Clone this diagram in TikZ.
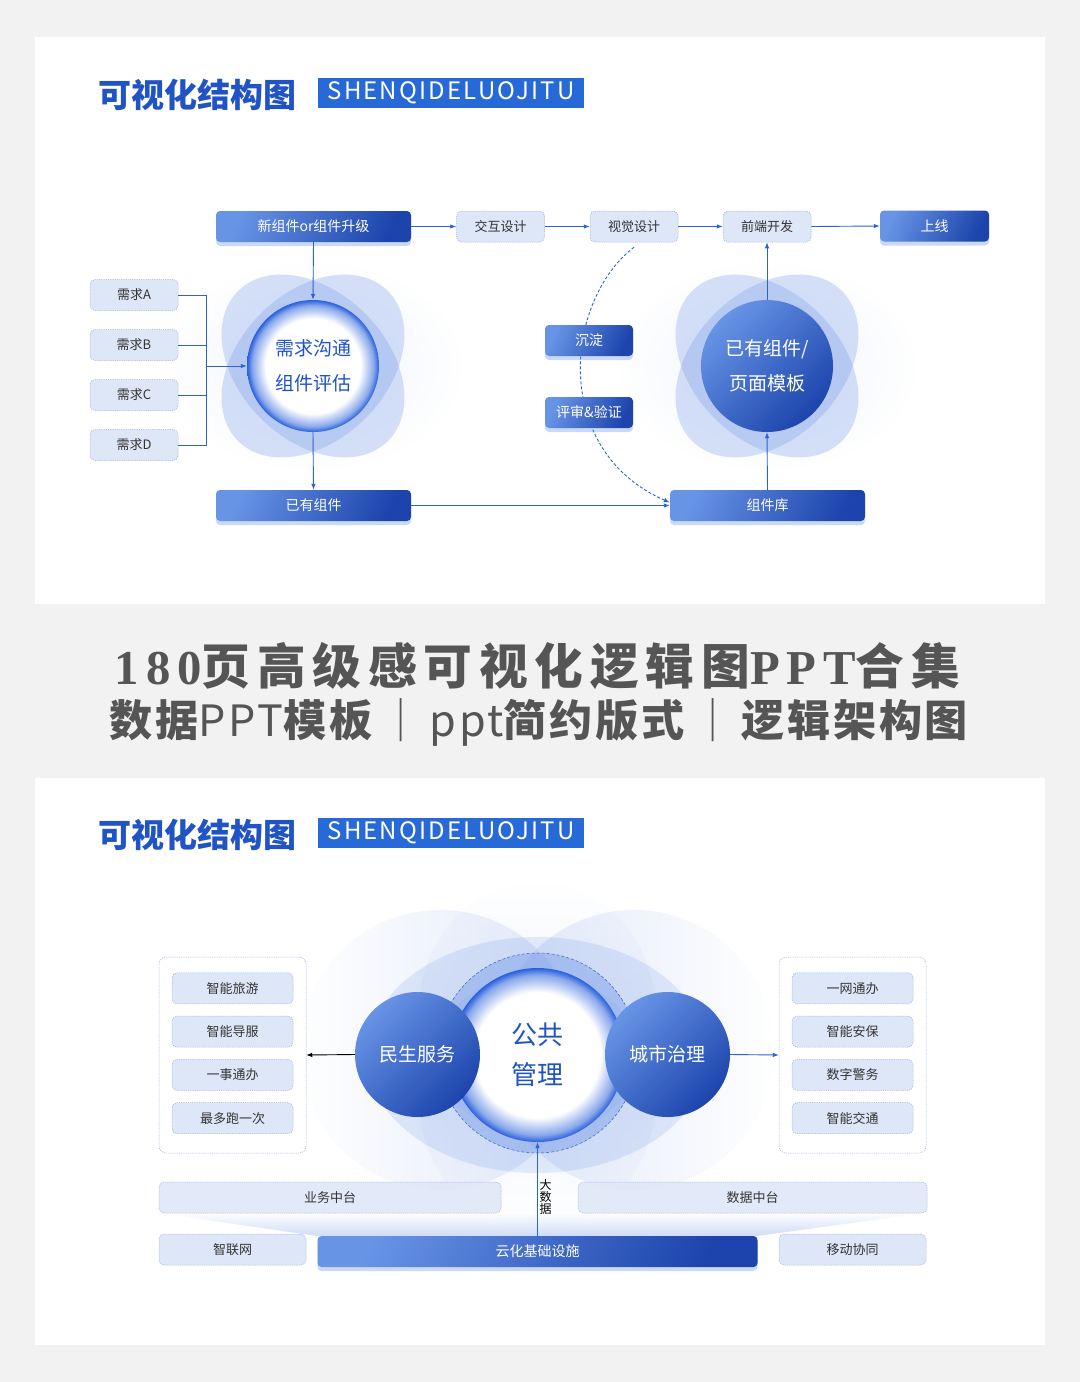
\documentclass[tikz,border=0pt]{standalone}
\usepackage{fontspec}
\setmainfont{Noto Sans CJK SC}
\newfontfamily\headserif{Liberation Serif}
\usetikzlibrary{arrows.meta,positioning,shadows,fadings,calc}
\definecolor{pagegray}{RGB}{242,242,242}
\definecolor{titleblue}{RGB}{32,84,196}
\definecolor{tagblue}{RGB}{40,105,216}
\definecolor{linkblue}{RGB}{42,99,212}
\definecolor{boxlight}{RGB}{104,148,230}
\definecolor{boxdark}{RGB}{28,68,172}
\definecolor{paleblue}{RGB}{222,231,248}
\definecolor{paleline}{RGB}{160,178,214}
\definecolor{petalblue}{RGB}{120,156,232}
\definecolor{ringblue}{RGB}{40,96,220}
\definecolor{textgray}{RGB}{51,51,51}
\definecolor{headgray}{RGB}{85,85,85}
\pgfdeclareradialshading{ringglow}{\pgfpoint{0bp}{0bp}}{color(0bp)=(white); color(18bp)=(white); color(23bp)=(ringblue!55); color(25bp)=(ringblue); color(50bp)=(ringblue)}
\tikzfading[name=softglow, inner color=transparent!20, outer color=transparent!100]
\tikzset{
    % gradient boxes
    darkbox/.style={
        rounded corners=4pt, left color=boxlight, right color=boxdark, shading angle=65,
        text=white, font=\fontsize{14}{16}\selectfont,
        minimum height=31pt, inner sep=0pt,
        drop shadow={shadow xshift=0pt, shadow yshift=-4pt, fill=boxlight, opacity=.35}
    },
    % pale dashed boxes
    palebox/.style={
        rounded corners=5pt, fill=paleblue, draw=paleline, dash pattern=on 1.2pt off 1pt,
        line width=.5pt, text=textgray, font=\fontsize{13}{15}\selectfont,
        minimum height=31pt, inner sep=0pt
    },
    groupbox/.style={rounded corners=7pt, fill=white, draw=paleline,
        dash pattern=on 1.2pt off 1pt, line width=.5pt, inner sep=0pt},
    % circles
    solidball/.style={circle, inner sep=0pt, top color=boxlight, bottom color=boxdark,
        shading angle=45, text=white, align=center},
    glowring/.style={circle, inner sep=0pt, shade, shading=ringglow, text=titleblue, align=center},
    % titles
    titletext/.style={font=\fontsize{33}{36}\selectfont\bfseries, text=titleblue, inner sep=0pt},
    tagbox/.style={fill=tagblue, text=white, minimum width=266pt, minimum height=30pt,
        inner sep=0pt, font=\fontsize{24}{26}\selectfont\addfontfeature{LetterSpace=9}},
    % connectors
    link/.style={draw=linkblue, line width=.9pt},
    flow/.style={link, -{Latex[length=6pt,width=4.5pt]}},
    dashflow/.style={flow, densely dashed},
    blackflow/.style={flow, draw=black},
}
\newcommand{\flowerglow}[2]{%
  \fill[petalblue, opacity=.14, path fading=softglow] (#1,#2) ellipse [x radius=150, y radius=105];
  \fill[petalblue, opacity=.3, rotate around={45:(#1,#2)}] (#1,#2) ellipse [x radius=106, y radius=74];
  \fill[petalblue, opacity=.3, rotate around={-45:(#1,#2)}] (#1,#2) ellipse [x radius=106, y radius=74];
}
\newcommand{\headspace}{\addfontfeature{LetterSpace=14}}
\begin{document}
\begin{tikzpicture}[x=1pt,y=-1pt]
\fill[pagegray] (0,0) rectangle (1080,1382);
\useasboundingbox (0,0) rectangle (1080,1382);
\fill[white] (35,37) rectangle (1045,604);
\fill[white] (35,778) rectangle (1045,1345);

% panel titles
\foreach \ty [count=\k] in {95,835} {
  \node[titletext, anchor=west] (title\k) at (98,\ty) {可视化结构图};
  \node[tagbox] (tag\k) at (451,\ty-2) {SHENQIDELUOJITU};
}

% ---- top diagram ----
\flowerglow{313}{366}
\flowerglow{767}{366}
\node[darkbox, minimum width=195pt] (newcomp) at (313.5,226.5) {新组件or组件升级};
\node[palebox, minimum width=88pt] (inter) at (500.5,226.5) {交互设计};
\node[palebox, minimum width=88pt] (visual) at (634,226.5) {视觉设计};
\node[palebox, minimum width=88pt] (front) at (767,226.5) {前端开发};
\node[darkbox, minimum width=109pt] (online) at (934.5,226) {上线};
\foreach \lab [count=\i] in {A,B,C,D}
  \node[palebox, minimum width=88pt] (req\lab) at (134,245+50*\i) {需求\lab};
\node[glowring, minimum size=132pt, font=\fontsize{19}{35}\selectfont] (demand) at (313,366) {需求沟通\\组件评估};
\node[solidball, minimum size=132pt, font=\fontsize{19}{35}\selectfont] (stock) at (767,366) {已有组件/\\页面模板};
\node[darkbox, minimum width=195pt] (owned) at (313.5,505.5) {已有组件};
\node[darkbox, minimum width=195pt] (library) at (767.5,505.5) {组件库};
% feedback loop behind the two small boxes
\draw[dashflow] ([yshift=-5pt]visual.south) .. controls (565,300) and (550,450) .. ([yshift=3pt]library.west);
\node[darkbox, minimum width=88pt] (settle) at (589,340.5) {沉淀};
\node[darkbox, minimum width=88pt] (review) at (589,412.5) {评审\&验证};

\draw[flow] (newcomp.east) -- (inter.west);
\draw[flow] (inter.east) -- (visual.west);
\draw[flow] (visual.east) -- (front.west);
\draw[flow] (front.east) -- (online.west);
\draw[flow] (newcomp.south) -- (demand.north);
\draw[flow] (demand.south) -- (owned.north);
\coordinate (bus) at (206,366);
\foreach \lab in {A,B,C,D} \draw[link] (req\lab.east) -| (bus);
\draw[flow] (bus) -- (demand.west);
\draw[flow] (owned.east) -- (library.west);
\draw[flow] (library.north) -- (stock.south);
\draw[flow] (stock.north) -- (front.south);

% ---- middle headline ----
\node[text=headgray, inner sep=0pt] (head1) at (537.5,666)
  {\resizebox{845pt}{!}{\fontsize{42}{44}\selectfont\bfseries\headspace{\headserif\bfseries\headspace 180}页高级感可视化逻辑图{\headserif\bfseries\headspace PPT}合集}};
\node[text=headgray, inner sep=0pt] (head2) at (539,722)
  {\resizebox{858pt}{!}{\fontsize{43}{45}\selectfont\bfseries\addfontfeature{LetterSpace=6}数据{\mdseries PPT}模板\,{\mdseries ｜}\,{\mdseries ppt}简约版式\,{\mdseries ｜}\,逻辑架构图}};

% ---- bottom diagram ----
% soft lobes
\fill[petalblue, opacity=.22, path fading=west] (440,1050) circle (140);
\fill[petalblue, opacity=.22, path fading=east] (634,1050) circle (140);
\fill[petalblue, opacity=.16, path fading=north] (537,1010) ellipse [x radius=118, y radius=128];
\fill[petalblue, opacity=.16, path fading=south] (537,1100) ellipse [x radius=118, y radius=128];
\fill[petalblue, opacity=.2] (537,1055) ellipse [x radius=170, y radius=118];
\fill[petalblue, opacity=.35, path fading=north] (159,1213) -- (927,1213) -- (758,1236) -- (318,1236) -- cycle;

\node[groupbox, minimum width=147pt, minimum height=196pt] (leftgrp) at (232.5,1055) {};
\node[groupbox, minimum width=147pt, minimum height=196pt] (rightgrp) at (852.5,1055) {};
\foreach \lab [count=\i] in {智能旅游,智能导服,一事通办,最多跑一次}
  \node[palebox, minimum width=121pt] (ls\i) at (232.5,945+43.3*\i) {\lab};
\foreach \lab [count=\i] in {一网通办,智能安保,数字警务,智能交通}
  \node[palebox, minimum width=121pt] (rs\i) at (852.5,945+43.3*\i) {\lab};

\node[circle, minimum size=200pt, fill=petalblue, fill opacity=.45, draw=linkblue,
      densely dashed, line width=.5pt] (halo) at (537.5,1053) {};
\node[glowring, minimum size=174pt, font=\fontsize{26}{40}\selectfont] (public) at (537.5,1055) {公共\\管理};
\node[solidball, minimum size=125pt, font=\fontsize{19}{22}\selectfont] (people) at (417.5,1054.5) {民生服务};
\node[solidball, minimum size=125pt, font=\fontsize{19}{22}\selectfont] (city) at (667.5,1054.5) {城市治理};

\node[palebox, minimum width=342pt, fill opacity=.85, text opacity=1] (bizhub) at (330,1197.5) {业务中台};
\node[palebox, minimum width=349pt, fill opacity=.85, text opacity=1] (datahub) at (752.5,1197.5) {数据中台};
\node[palebox, minimum width=147pt] (iot) at (232.5,1249.5) {智联网};
\node[darkbox, minimum width=440pt] (cloud) at (537.5,1251.5) {云化基础设施};
\node[palebox, minimum width=147pt] (mobile) at (852.5,1249.5) {移动协同};
\node[font=\fontsize{12}{11}\selectfont, align=center, inner sep=0pt] (bigdata) at (545.5,1197) {大\\数\\据};

\draw[blackflow] (people.west) -- (leftgrp.east);
\draw[flow] (city.east) -- (rightgrp.west);
\draw[flow] (cloud.north) -- (public.south);
\end{tikzpicture}
\end{document}
